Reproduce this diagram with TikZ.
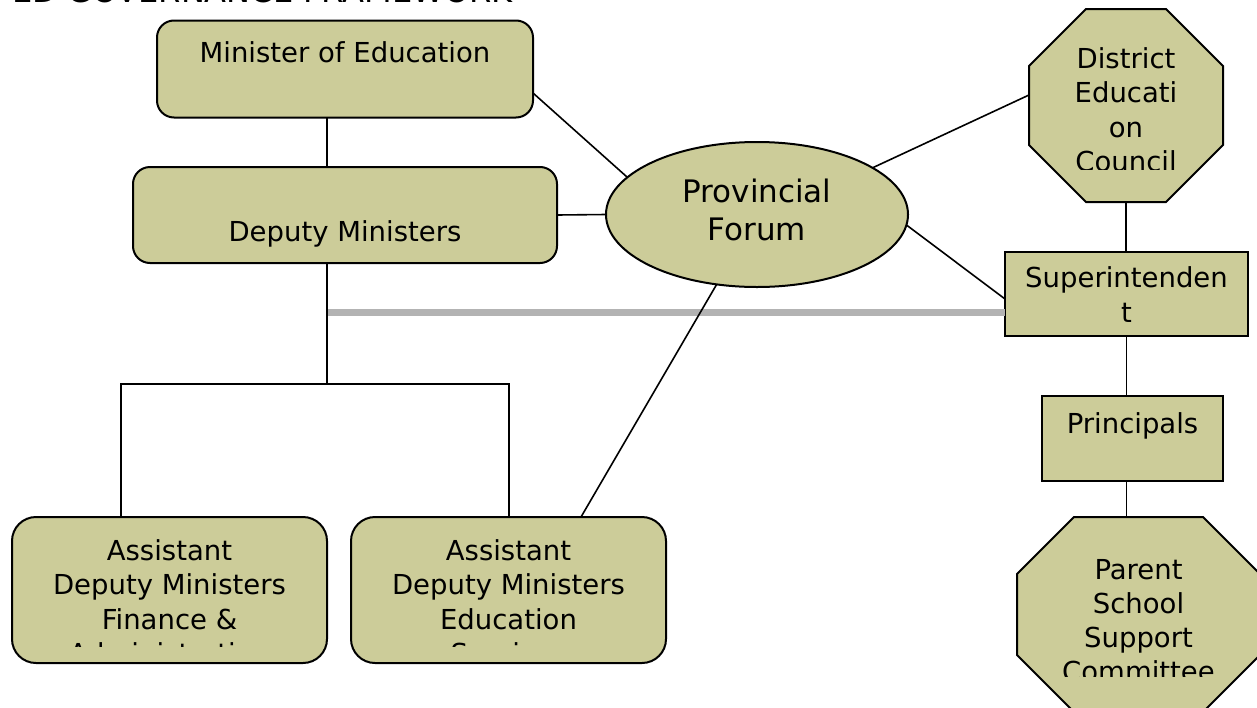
\documentclass[tikz,border=0pt]{standalone}
\usepackage{fontspec}
\setmainfont{DejaVu Sans}
\usetikzlibrary{calc,shapes.geometric}
\definecolor{khaki}{HTML}{CCCC99}
\definecolor{bargray}{HTML}{B3B3B3}
\newcommand\txtlines[1]{\begin{tabular}[t]{@{}c@{}}#1\end{tabular}}
\newcommand\octagonpath[2]{%
  \draw[box] ($(#1.north west)+(#2,0)$) -- ($(#1.north east)+(-#2,0)$)
    -- ($(#1.north east)+(0,#2)$) -- ($(#1.south east)+(0,-#2)$)
    -- ($(#1.south east)+(-#2,0)$) -- ($(#1.south west)+(#2,0)$)
    -- ($(#1.south west)+(0,-#2)$) -- ($(#1.north west)+(0,#2)$) -- cycle;}
\begin{document}
\begin{tikzpicture}[x=1pt,y=-1pt,
  box/.style={draw=black, line width=2pt, fill=khaki, inner sep=0pt, outer sep=0pt},
  rbox/.style={box, rounded corners=17pt},
  abox/.style={box, rounded corners=24pt},
  frame/.style={inner sep=0pt, outer sep=0pt},
  oval/.style={box, ellipse},
  txt/.style={inner sep=0pt, anchor=base, font=\fontsize{27.5}{34.5}\selectfont},
  bigtxt/.style={inner sep=0pt, anchor=base, font=\fontsize{31}{38.5}\selectfont},
  conn/.style={draw=black, line width=1.6pt},
  bar/.style={draw=bargray, line width=7pt}]
\path[use as bounding box] (0,0) rectangle (1257,707);
\clip (0,0) rectangle (1257,707);
\fill[white] (0,0) rectangle (1257,707);

% title (cut off at top, as in the reference)
\node[inner sep=0pt, anchor=base west, font=\fontsize{32}{38}\selectfont] (title) at (12,2.5) {ED GOVERNANCE FRAMEWORK};

% shapes
\node[rbox, minimum width=376pt, minimum height=97pt] (min) at (345,69) {};
\node[rbox, minimum width=424pt, minimum height=96pt] (dep) at (345,215) {};
\node[oval, minimum width=302pt, minimum height=145pt] (forum) at (757,214.5) {};
\node[frame, minimum width=194pt, minimum height=193pt] (dec) at (1126,105.5) {};
\octagonpath{dec}{57}
\node[box, minimum width=243pt, minimum height=84pt] (sup) at (1126.5,294) {};
\node[box, minimum width=181pt, minimum height=85pt] (prin) at (1132.5,438.5) {};
\node[frame, minimum width=243pt, minimum height=195pt] (par) at (1138.5,614.5) {};
\octagonpath{par}{57}
\node[abox, minimum width=315pt, minimum height=146pt] (adm1) at (169.5,590) {};
\node[abox, minimum width=315pt, minimum height=146pt] (adm2) at (508.5,590) {};

% texts
\node[txt] (mint) at (345,62) {Minister of Education};
\node[txt] (dept) at (345,241) {Deputy Ministers};
\node[bigtxt] (forumt) at (757,202) {\txtlines{Provincial\\Forum}};
\begin{scope}
  \clip (1029,20) rectangle (1223,169);
  \node[txt] (dect) at (1126,68) {\txtlines{District\\Educati\\on\\Council}};
\end{scope}
\node[txt, font=\fontsize{27.5}{35}\selectfont] (supt) at (1126.5,287) {\txtlines{Superintenden\\t}};
\node[txt] (print) at (1132.5,433) {Principals};
\begin{scope}
  \clip (1017,530) rectangle (1257,676);
  \node[txt, font=\fontsize{27.5}{34}\selectfont] (part) at (1138.5,579) {\txtlines{Parent\\School\\Support\\Committee}};
\end{scope}
\begin{scope}
  \clip (12,525) rectangle (666,646.5);
  \node[txt] (adm1t) at (169.5,560) {\txtlines{Assistant\\Deputy Ministers\\Finance \&\\Administration}};
  \node[txt] (adm2t) at (508.5,560) {\txtlines{Assistant\\Deputy Ministers\\Education\\Services}};
\end{scope}

% junction coordinates
\coordinate (vx) at (327,384);
\coordinate (j1) at (121,384);
\coordinate (j2) at (509,384);
\coordinate (g) at (327,312);

% grey bar
\draw[bar] (g) -- (g -| sup.west);

% connectors
\draw[conn] (min.south -| vx) -- (dep.north -| vx);
\draw[conn] (dep.south -| vx) -- (vx);
\draw[conn] (adm1.north -| j1) -- (j1) -- (j2) -- (adm2.north -| j2);
\draw[conn] ($(min.east)+(0,24)$) -- (forum.164);
\draw[conn] (dep.east) -- (forum.west);
\draw[conn] (forum.22.8) -- ($(dec.west)+(0,-10.5)$);
\draw[conn] (forum.-4.7) -- ($(sup.west)+(0,5)$);
\draw[conn] (forum.240) -- ($(adm2.north)+(72.5,0)$);
\draw[conn] (dec.south) -- (dec.south |- sup.north);
\draw[conn] (sup.south) -- (sup.south |- prin.north);
\draw[conn] (prin.south -| sup.south) -- (sup.south |- par.north);
\end{tikzpicture}
\end{document}
